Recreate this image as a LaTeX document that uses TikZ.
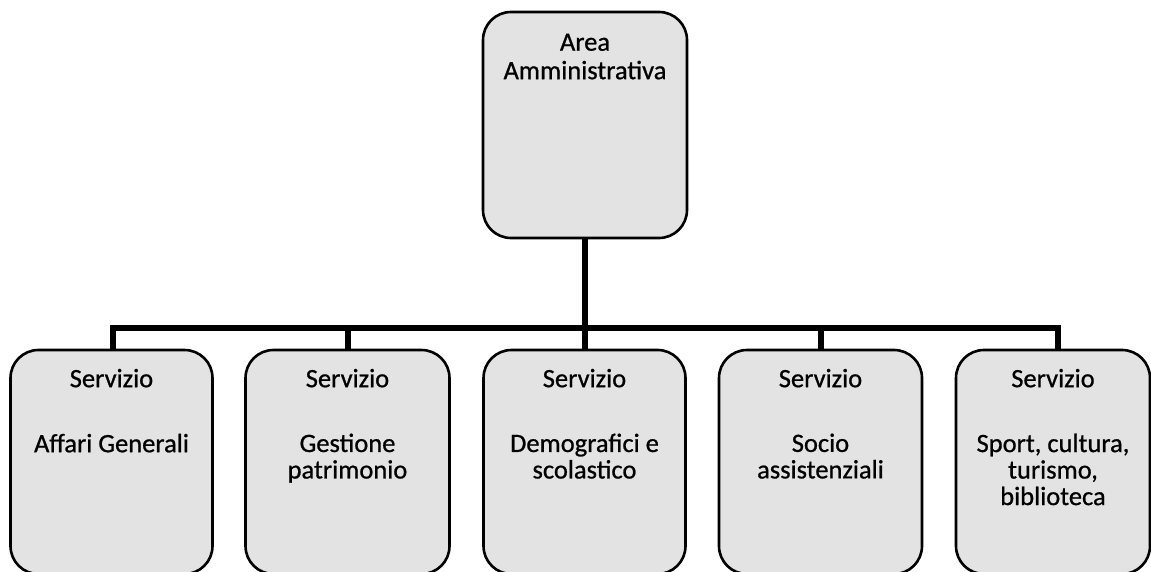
\documentclass[tikz,border=0pt]{standalone}
\usepackage{fontspec}
\setmainfont{Carlito}[BoldFont=Carlito, BoldFeatures={FakeBold=0.8}]
\begin{document}
\begin{tikzpicture}[x=1pt,y=-1pt,
  orgbox/.style={draw=black, line width=2.6pt, rounded corners=28pt, fill=black!11, inner sep=0pt},
  boxtext/.style={font=\fontsize{26.5}{26.5}\selectfont\bfseries, align=center, anchor=north, inner sep=0pt,
    execute at begin node=\strut},
  conn/.style={line width=6pt}]
\useasboundingbox (0,0) rectangle (1151,572);
% top box
\node[orgbox, minimum width=204pt, minimum height=226pt] (top) at (585,125) {};
\node[boxtext] (ttop) at (585,52-18.55) {Area\\[2pt]Amministrativa};
% bottom boxes
\node[orgbox, minimum width=202pt, minimum height=224pt] (b1) at (111.5,462) {};
\node[orgbox, minimum width=204pt, minimum height=224pt] (b2) at (347.5,462) {};
\node[orgbox, minimum width=202pt, minimum height=224pt] (b3) at (584.5,462) {};
\node[orgbox, minimum width=203pt, minimum height=224pt] (b4) at (820.5,462) {};
\node[orgbox, minimum width=194pt, minimum height=224pt] (b5) at (1053,462) {};
% titles
\node[boxtext] (s1) at (b1.north |- 0,387-18.55) {Servizio};
\node[boxtext] (s2) at (b2.north |- 0,387-18.55) {Servizio};
\node[boxtext] (s3) at (b3.north |- 0,387-18.55) {Servizio};
\node[boxtext] (s4) at (b4.north |- 0,387-18.55) {Servizio};
\node[boxtext] (s5) at (b5.north |- 0,387-18.55) {Servizio};
\node[boxtext] (n1) at (b1.north |- 0,452-18.55) {Affari Generali};
\node[boxtext] (n2) at (b2.north |- 0,452-18.55) {Gestione\\patrimonio};
\node[boxtext] (n3) at (b3.north |- 0,452-18.55) {Demografici e\\scolastico};
\node[boxtext] (n4) at (b4.north |- 0,452-18.55) {Socio\\assistenziali};
\node[boxtext] (n5) at (b5.north |- 0,452-18.55) {Sport, cultura,\\turismo,\\biblioteca};
% connectors
\coordinate (hub) at (585,327.5);
\coordinate (barL) at (113,327.5);
\coordinate (barR) at (1058,327.5);
\draw[conn] (top.south) -- (hub);
\draw[conn] ([xshift=-3pt]barL) -- ([xshift=3pt]barR);
\draw[conn] (barL) -- (barL |- b1.north);
\draw[conn] (b2.north |- hub) -- (b2.north);
\draw[conn] (b3.north |- hub) -- (b3.north);
\draw[conn] (b4.north |- hub) -- (b4.north);
\draw[conn] (barR) -- (barR |- b5.north);
\end{tikzpicture}
\end{document}
